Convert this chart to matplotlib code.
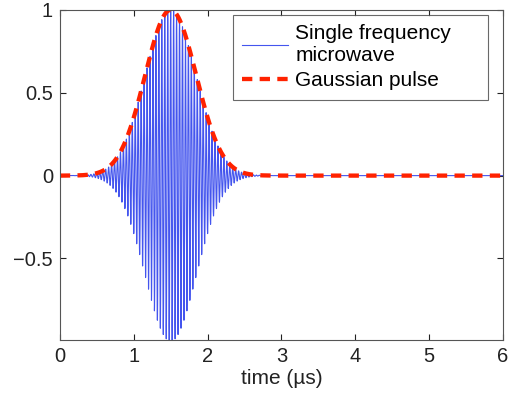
import numpy as np
import matplotlib
matplotlib.use("Agg")
import matplotlib.pyplot as plt

plt.rcParams['font.family'] = ['Liberation Sans', 'DejaVu Sans']

# pulse parameters
pulse_center_us = 1.5
pulse_sigma_us = 0.345
carrier_freq_mhz = 25.0
t_start, t_end = 0.0, 6.0
x_ticks = [0, 1, 2, 3, 4, 5, 6]
y_ticks = [-0.5, 0, 0.5, 1]
y_tick_labels = ['\u22120.5', '0', '0.5', '1']

t = np.linspace(t_start, t_end, 30001)
envelope = np.exp(-(t - pulse_center_us) ** 2 / (2 * pulse_sigma_us ** 2))
microwave = envelope * np.cos(2 * np.pi * carrier_freq_mhz * (t - pulse_center_us))

fig = plt.figure(figsize=(5.16, 3.96), dpi=100)
ax = fig.add_axes([0.116, 0.141, 0.859, 0.834])
ax.plot(t, microwave, color='#4455ee', lw=0.8, label='Single frequency\nmicrowave')
ax.plot(t, envelope, color='#ff2200', lw=3.1, ls=(0, (2.4, 1.7)), label='Gaussian pulse')
ax.set_xlim(t_start, t_end)
ax.set_ylim(-0.993, 1)
ax.set_xticks(x_ticks)
ax.set_yticks(y_ticks)
ax.set_yticklabels(y_tick_labels)
ax.tick_params(direction='in', labelsize=14.5, colors='#222222', length=4, top=True, right=True,
               labeltop=False, labelright=False, pad=5)
for s in ax.spines.values():
    s.set_color('#555555')
ax.set_xlabel('time (\u00b5s)', fontsize=15, labelpad=2, color='#222222')
leg = ax.legend(loc='upper left', bbox_to_anchor=(0.39, 0.70, 0.576, 0.285), mode='expand',
                fontsize=15, frameon=True, fancybox=False, edgecolor='#444444',
                handlelength=2.2, borderaxespad=0, labelspacing=0.3,
                handletextpad=0.35, borderpad=0.45)
leg.get_frame().set_linewidth(0.8)
fig.savefig('out.png', dpi=100)
